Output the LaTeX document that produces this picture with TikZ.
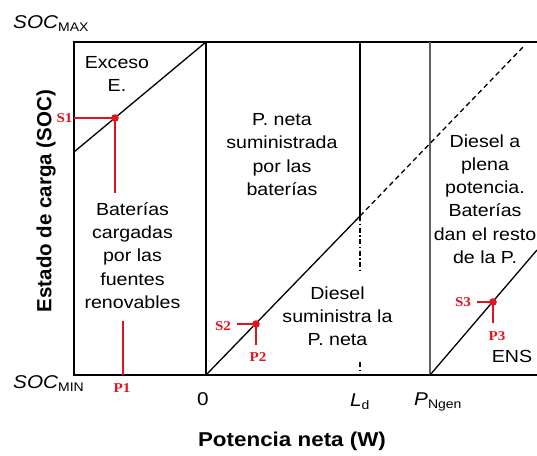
\documentclass[tikz,border=0pt]{standalone}
\usepackage{fontspec}
\setmainfont{Liberation Sans}[FakeStretch=1.12]
\newfontfamily\plainsans{Liberation Sans}
\newfontfamily\redserif{Liberation Serif}[FakeStretch=1.12]
\definecolor{redlab}{RGB}{225,20,30}
\definecolor{ngray}{RGB}{95,95,95}
\begin{document}
\begin{tikzpicture}[x=1pt,y=-1pt,
  txt/.style={align=center, font=\fontsize{17.5}{23.2}\selectfont, inner sep=0pt},
  axlab/.style={inner sep=0pt, font=\fontsize{18.5}{20}\selectfont},
  redtxt/.style={inner sep=0pt, text=redlab, font=\redserif\bfseries\fontsize{13.5}{14}\selectfont},
  redline/.style={draw=redlab, line width=1.2pt},
  reddot/.style={fill=redlab},
  frame/.style={line width=2pt},
  divider/.style={line width=1.6pt},
  curve/.style={line width=1.3pt},
  dashdot/.style={line width=1.2pt, dash pattern=on 5pt off 2.5pt on 1.5pt off 2.5pt}]
\useasboundingbox (0,0) rectangle (537,455);
% key coordinates
\coordinate (TL) at (74,42);
\coordinate (BL) at (74,375);
\coordinate (TR) at (537,42);
\coordinate (BR) at (537,375);
\coordinate (Z0) at (206,375);
\coordinate (Z0t) at (206,42);
\coordinate (LdT) at (360,42);
\coordinate (LdX) at (360,216);
\coordinate (LdM1) at (360,272);
\coordinate (LdM2) at (360,362);
\coordinate (LdB) at (360,375);
\coordinate (NgT) at (430,42);
\coordinate (NgB) at (430,375);
\coordinate (LdiagA) at (74,152);
\coordinate (DashEnd) at (525,45);
\coordinate (RdiagEnd) at (537,250);
% frame and dividers
\draw[frame] (TR) -- (TL) -- (BL) -- (BR);
\draw[divider] (Z0t) -- (Z0);
\draw[line width=1.2pt] (LdT) -- (LdX);
\draw[dashdot] (LdX) -- (LdM1);
\draw[dashdot] (LdM2) -- (LdB);
\draw[divider, draw=ngray] (NgT) -- (NgB);
% diagonals
\draw[curve] (LdiagA) -- (Z0t);
\draw[curve] (Z0) -- (LdX);
\draw[curve, dash pattern=on 5pt off 3.5pt] (LdX) -- (DashEnd);
\draw[curve] (NgB) -- (RdiagEnd);
% region texts
\node[txt] (exc) at (117,74) {Exceso\\E.};
\node[txt] (bat) at (132.5,255.5) {Baterías\\cargadas\\por las\\fuentes\\renovables};
\node[txt] (pnet) at (282,154.5) {P. neta\\suministrada\\por las\\baterías};
\node[txt] (dfull) at (485,199) {Diesel a\\plena\\potencia.\\Baterías\\dan el resto\\de la P.};
\node[txt] (dsum) at (337.5,316) {Diesel\\suministra la\\P. neta};
\node[txt] (ens) at (512,356) {ENS};
% axis labels
\node[axlab, anchor=base west] (socmax) at (13,28) {\itshape SOC\upshape\raisebox{-3pt}{\fontsize{12.5}{13}\selectfont MAX}};
\node[axlab, anchor=base west] (socmin) at (13,388) {\itshape SOC\upshape\raisebox{-3pt}{\fontsize{12.5}{13}\selectfont MIN}};
\node[axlab, anchor=base] (zero) at (203,405) {0};
\node[axlab, anchor=base west] (ld) at (350,406) {\itshape L\upshape\raisebox{-3pt}{\fontsize{12.5}{13}\selectfont d}};
\node[axlab, anchor=base west] (png) at (414,405) {\itshape P\upshape\raisebox{-3pt}{\fontsize{12.5}{13}\selectfont Ngen}};
\node[inner sep=0pt, font=\fontsize{20}{22}\selectfont\bfseries] (xlab) at (292,441) {Potencia neta (W)};
\node[inner sep=0pt, rotate=90, font=\plainsans\fontsize{20.5}{22}\selectfont\bfseries] (ylab) at (46,201) {Estado de carga (SOC)};
% red markers
\coordinate (S1) at (115,118);
\coordinate (S1a) at (74,118);
\coordinate (S1b) at (115,193);
\draw[redline] (S1a) -- (S1) -- (S1b);
\fill[reddot] (S1) circle (3.8pt);
\node[redtxt] (s1t) at (64.5,118) {S1};
\coordinate (P1a) at (123,321);
\coordinate (P1b) at (123,375);
\draw[redline] (P1a) -- (P1b);
\node[redtxt] (p1t) at (122,388) {P1};
\coordinate (S2) at (256,324);
\coordinate (S2a) at (237,324);
\coordinate (S2b) at (256,345);
\draw[redline] (S2a) -- (S2) -- (S2b);
\fill[reddot] (S2) circle (3.8pt);
\node[redtxt] (s2t) at (223,326) {S2};
\node[redtxt] (p2t) at (258,357) {P2};
\coordinate (S3) at (493,302);
\coordinate (S3a) at (477,302);
\coordinate (S3b) at (493,323);
\draw[redline] (S3a) -- (S3) -- (S3b);
\fill[reddot] (S3) circle (3.8pt);
\node[redtxt] (s3t) at (463,302) {S3};
\node[redtxt] (p3t) at (497,336) {P3};
\end{tikzpicture}
\end{document}
